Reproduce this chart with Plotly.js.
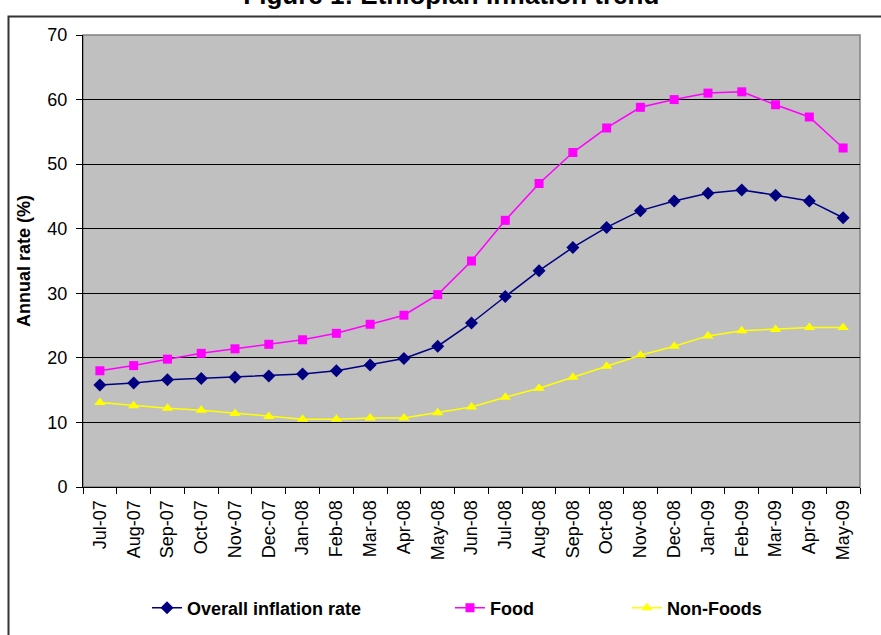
<!DOCTYPE html>
<html>
<head>
<meta charset="utf-8">
<script src="https://cdn.plot.ly/plotly-3.0.1.min.js"></script>
<style>html,body{margin:0;padding:0;background:#fff;}#chart{width:881px;height:635px;}</style>
</head>
<body>
<div id="chart"></div>
<script>
const months = ["Jul-07","Aug-07","Sep-07","Oct-07","Nov-07","Dec-07","Jan-08","Feb-08","Mar-08","Apr-08","May-08","Jun-08","Jul-08","Aug-08","Sep-08","Oct-08","Nov-08","Dec-08","Jan-09","Feb-09","Mar-09","Apr-09","May-09"];
const overall = [15.8,16.1,16.6,16.8,17.0,17.2,17.5,18.0,18.9,19.9,21.8,25.4,29.5,33.5,37.1,40.2,42.8,44.3,45.5,46.0,45.2,44.3,41.7];
const food = [18.0,18.8,19.8,20.7,21.4,22.1,22.8,23.8,25.2,26.6,29.8,35.0,41.3,47.0,51.8,55.6,58.8,60.0,61.0,61.2,59.2,57.3,52.5];
const nonFood = [13.1,12.6,12.2,11.9,11.4,10.9,10.5,10.5,10.7,10.7,11.5,12.4,13.9,15.3,17.0,18.7,20.4,21.8,23.4,24.2,24.4,24.7,24.7];
const seriesNames = ["Overall inflation rate","Food","Non-Foods"];

const F = "'Liberation Sans', Arial, sans-serif";
const traces = [
  {x: months, y: overall, name: seriesNames[0], type: 'scatter', mode: 'lines+markers', legend: 'legend', showlegend: true,
   line: {color: '#000080', width: 1.5}, marker: {symbol: 'diamond', size: 10, color: '#000080'}},
  {x: months, y: food, name: seriesNames[1], type: 'scatter', mode: 'lines+markers', legend: 'legend2', showlegend: true,
   line: {color: '#FF00FF', width: 1.5}, marker: {symbol: 'square', size: 9, color: '#FF00FF'}},
  {x: months, y: nonFood, name: seriesNames[2], type: 'scatter', mode: 'lines+markers', legend: 'legend3', showlegend: true,
   line: {color: '#FFFF00', width: 1.5}, marker: {symbol: 'triangle-up', size: 10, color: '#FFFF00'}}
];
const legFont = {family: F, size: 18, color: '#000', weight: 'bold'};
const legBase = {orientation: 'h', yanchor: 'middle', xanchor: 'left', y: -0.268, font: legFont, bgcolor: 'rgba(0,0,0,0)', borderwidth: 0, visible: true};
const layout = {
  width: 881, height: 635,
  showlegend: true,
  margin: {l: 83, r: 21, t: 35, b: 148, autoexpand: false},
  paper_bgcolor: '#ffffff',
  plot_bgcolor: '#C0C0C0',
  font: {family: F, color: '#000'},
  title: {text: '<b>Figure 1: Ethiopian inflation trend</b>', font: {family: F, size: 26, color: '#000'},
          x: 0.474, xanchor: 'center', xref: 'paper', yref: 'container', y: 1 - 4/635, yanchor: 'bottom'},
  xaxis: {type: 'category', showgrid: false, showline: true, linecolor: '#000', linewidth: 1,
          ticks: 'outside', tickson: 'boundaries', ticklen: 6, tickcolor: '#000', ticklabelstandoff: 5,
          tickangle: -90, tickfont: {family: F, size: 18, color: '#000'}, range: [-0.5, 22.5]},
  yaxis: {range: [0, 70], dtick: 10, showgrid: true, gridcolor: '#000', gridwidth: 1, zeroline: false,
          showline: true, linecolor: '#000', linewidth: 1, ticks: 'outside', ticklen: 6, tickcolor: '#000',
          ticklabelstandoff: 5,
          tickfont: {family: F, size: 18, color: '#000'},
          title: {text: '<b>Annual rate (%)</b>', font: {family: F, size: 18, color: '#000'}, standoff: 12}},
  legend: Object.assign({}, legBase, {x: 0.0824}),
  legend2: Object.assign({}, legBase, {x: 0.4723}),
  legend3: Object.assign({}, legBase, {x: 0.700}),
  shapes: [
    {type: 'rect', xref: 'paper', yref: 'paper', x0: 0, x1: 1, y0: 0, y1: 1, layer: 'below',
     line: {color: '#808080', width: 1.5}},
    {type: 'rect', xref: 'paper', yref: 'paper', x0: (8.5-83)/777, x1: 1.15, y0: -0.4, y1: (487-16.5)/452,
     line: {color: '#333333', width: 2}}
  ]
};
Plotly.newPlot('chart', traces, layout, {displayModeBar: false, staticPlot: true});
</script>
</body>
</html>
